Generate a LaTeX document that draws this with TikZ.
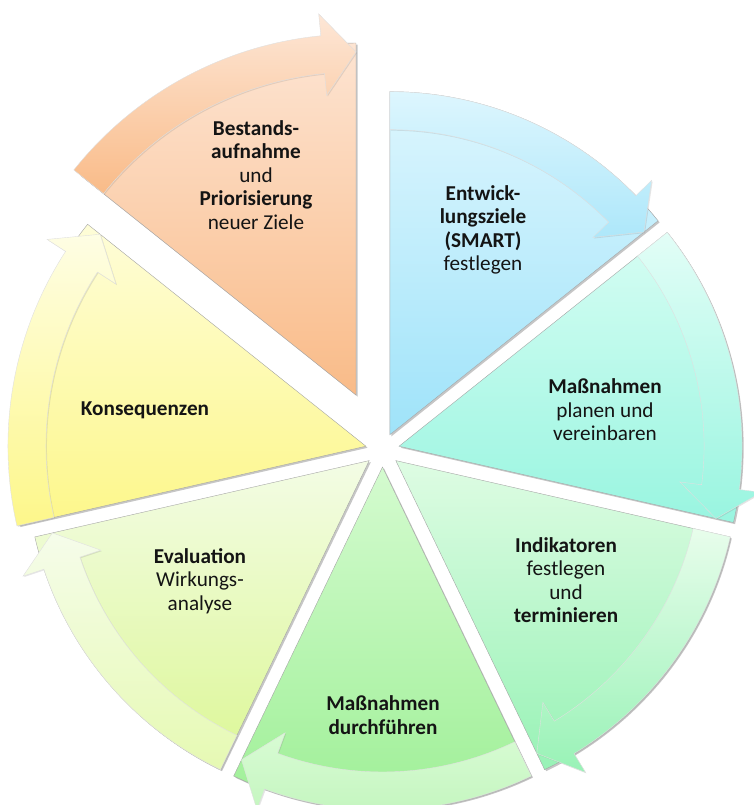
\documentclass[tikz,border=0pt]{standalone}
\usepackage{fontspec}
\setmainfont{Carlito}
\usetikzlibrary{calc,shadows}

\definecolor{orangeoben}{HTML}{FDE4D2}\definecolor{orangeunten}{HTML}{F9BB88}
\definecolor{blauoben}{HTML}{DDF6FE}\definecolor{blauunten}{HTML}{9FE3F9}
\definecolor{tuerkisoben}{HTML}{D6FDF3}\definecolor{tuerkisunten}{HTML}{99F5E0}
\definecolor{mintoben}{HTML}{DEFCE3}\definecolor{mintunten}{HTML}{98F2B6}
\definecolor{gruenoben}{HTML}{D4FBCF}\definecolor{gruenunten}{HTML}{9DEF95}
\definecolor{limeoben}{HTML}{F3FCE5}\definecolor{limeunten}{HTML}{DCF795}
\definecolor{gelboben}{HTML}{FEFDD8}\definecolor{gelbunten}{HTML}{FDF78A}

\tikzset{
  sektorbox/.style={draw=black!35, line width=.4pt,
    drop shadow={shadow xshift=1.6pt,shadow yshift=-1.6pt,opacity=.45}},
  pfeilband/.style={draw=black!12, line width=.4pt,
    drop shadow={shadow xshift=1pt,shadow yshift=-1pt,opacity=.2}},
  beschriftung/.style={align=center, text=black!92,
    font=\fontsize{21.2}{23.5}\selectfont}
}

% #1 name, #2 mittlerer winkel, #3 versatz, #4 radius, #5/#6 farben
\newcommand{\sektor}[6]{%
  \coordinate (#1) at ($(mitte)+(#2:#3pt)$);
  \shade[sektorbox, top color=#5, bottom color=#6] (#1) -- ++(#2-25.714:#4pt)
    arc[start angle=#2-25.714, end angle=#2+25.714, radius=#4pt] -- cycle;
}
% #1 spitze des sektors, #2 mittlerer winkel, #3 aeusserer radius, #4/#5 farben
\newcommand{\pfeil}[5]{%
  \pgfmathsetmacro\pa{#2+25.714}\pgfmathsetmacro\pt{#2-25.714}\pgfmathsetmacro\pb{\pt+5.6}
  \pgfmathsetmacro\ri{#3-38}\pgfmathsetmacro\hi{#3-60}
  \pgfmathsetmacro\ho{#3+22}\pgfmathsetmacro\rt{#3-18}
  \shade[pfeilband, top color=#4, bottom color=#5] ($(#1)+(\pa:#3pt)$)
    arc[start angle=\pa, end angle=\pb, radius=#3pt]
    -- ($(#1)+(\pb:\ho pt)$) -- ($(#1)+(\pt:\rt pt)$) -- ($(#1)+(\pb:\hi pt)$)
    -- ($(#1)+(\pb:\ri pt)$)
    arc[start angle=\pb, end angle=\pa, radius=\ri pt] -- cycle;
}

\begin{document}
\begin{tikzpicture}[x=1pt,y=1pt]
\useasboundingbox (0,0) rectangle (753,805);
\coordinate (mitte) at (382.5,355);

\sektor{orange}{115.714}{61}{352}{orangeoben}{orangeunten}
\pfeil{orange}{115.714}{361}{orangeoben!90!white}{orangeunten}
\sektor{blau}{64.286}{17}{343}{blauoben}{blauunten}
\pfeil{blau}{64.286}{343}{blauoben}{blauunten!85!white}
\sektor{tuerkis}{12.857}{17}{343}{tuerkisoben}{tuerkisunten}
\pfeil{tuerkis}{12.857}{343}{tuerkisoben!70!white}{tuerkisunten}
\sektor{mint}{-38.571}{17}{343}{mintoben}{mintunten}
\pfeil{mint}{-38.571}{343}{mintoben!70!white}{mintunten}
\sektor{gruen}{-90}{17}{343}{gruenoben}{gruenunten}
\pfeil{gruen}{-90}{343}{gruenoben!90!white}{gruenunten!62!white}
\sektor{lime}{-141.429}{17}{343}{limeoben}{limeunten}
\pfeil{lime}{-141.429}{343}{limeoben!80!white}{limeunten!72!white}
\sektor{gelb}{167.143}{17}{356}{gelboben}{gelbunten}
\pfeil{gelb}{167.143}{358}{gelboben!70!white}{gelbunten}

\node[beschriftung] (bestand) at (256,630) {\textbf{Bestands-}\\\textbf{aufnahme}\\und\\\textbf{Priorisierung}\\neuer Ziele};
\node[beschriftung] (ziele) at (483,575) {\textbf{Entwick-}\\\textbf{lungsziele}\\\textbf{(SMART)}\\festlegen};
\node[beschriftung] (planen) at (605,395) {\textbf{Maßnahmen}\\planen und\\vereinbaren};
\node[beschriftung] (indikatoren) at (566,225) {\textbf{Indikatoren}\\festlegen\\und\\\textbf{terminieren}};
\node[beschriftung] (durchfuehren) at (383,90) {\textbf{Maßnahmen}\\\textbf{durchführen}};
\node[beschriftung] (evaluation) at (200,224) {\textbf{Evaluation}\\Wirkungs-\\analyse};
\node[beschriftung] (konsequenzen) at (145,395) {\textbf{Konsequenzen}};
\end{tikzpicture}
\end{document}
